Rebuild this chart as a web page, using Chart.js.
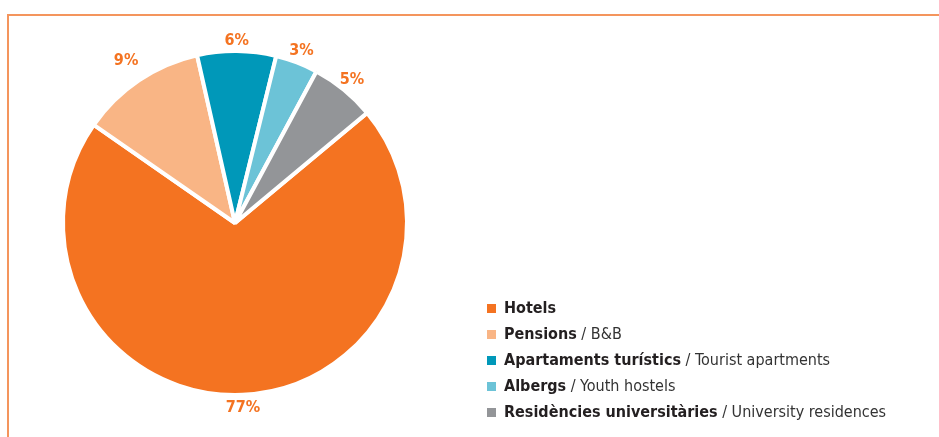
<!DOCTYPE html>
<html>
<head>
<meta charset="utf-8">
<script src="https://cdn.jsdelivr.net/npm/chart.js@4.4.1/dist/chart.umd.min.js"></script>
<style>
	html, body { margin: 0; padding: 0; background: #fff; }
	#wrap { position: relative; width: 939px; height: 437px; overflow: hidden; }
	#frame { position: absolute; left: 7px; top: 14px; right: -10px; bottom: -10px;
		border-top: 2px solid #f4955d; border-left: 2px solid #f4955d; }
	#pie { position: absolute; left: 0; top: 0; }
	#legend { position: absolute; left: 487px; top: 295px; margin: 0; padding: 0; list-style: none;
		font-family: "DejaVu Sans Condensed", "Liberation Sans Narrow", Arial, sans-serif; font-size: 16px; color: #333; }
	#legend li { height: 26px; line-height: 26px; white-space: nowrap; }
	#legend .box { display: inline-block; width: 9px; height: 9px; margin-right: 8px; vertical-align: 0px; }
	#legend b { color: #231f20; }
</style>
</head>
<body>
<div id="wrap">
	<div id="frame"></div>
	<canvas id="pie" width="939" height="437"></canvas>
	<ul id="legend"></ul>
</div>
<script>
// category names (Catalan, bold) and English translations
var categories = ['Hotels', 'Pensions', 'Apartaments turístics', 'Albergs', 'Residències universitàries'];
var translations = ['', 'B&B', 'Tourist apartments', 'Youth hostels', 'University residences'];
// slice sizes as drawn in the picture, and the percentage labels printed beside them
var shares = [70.8, 11.8, 7.4, 4.0, 6.1];
var pctLabels = ['77%', '9%', '6%', '3%', '5%'];
var colors = ['#f47321', '#f9b585', '#0098b9', '#6cc3d7', '#939598'];

var sliceLabels = {
	id: 'sliceLabels',
	afterDatasetsDraw: (chart, args, opts) => {
		var ctx = chart.ctx;
		var meta = chart.getDatasetMeta(0);
		ctx.save();
		ctx.font = 'bold 16px "DejaVu Sans Condensed", Arial, sans-serif';
		ctx.fillStyle = '#f47321';
		ctx.textAlign = 'center';
		ctx.textBaseline = 'middle';
		meta.data.forEach((arc, i) => {
			var p = arc.getProps(['x', 'y', 'startAngle', 'endAngle', 'outerRadius'], true);
			var mid = (p.startAngle + p.endAngle) / 2;
			var r = p.outerRadius + opts.pad + (opts.extra[i] || 0);
			ctx.fillText(pctLabels[i], p.x + Math.cos(mid) * r, p.y + Math.sin(mid) * r);
		});
		ctx.restore();
	}
};

var context = document.getElementById('pie').getContext('2d');
var chart = new Chart(context, {
	type: 'pie',
	data: {
		labels: categories,
		datasets: [{
			data: shares,
			backgroundColor: colors,
			borderColor: '#ffffff',
			borderWidth: 4,
			hoverOffset: 0,
			radius: 172
		}]
	},
	options: {
		responsive: false,
		animation: false,
		rotation: 50.2,
		layout: { padding: { left: 63, top: 51, right: 532, bottom: 42 } },
		plugins: {
			legend: { display: false },
			tooltip: { enabled: false },
			sliceLabels: { pad: 13, extra: [0, 10, -3, 0, 0] }
		}
	},
	plugins: [sliceLabels]
});

// html legend: bold Catalan name, plain English name
var legend = document.getElementById('legend');
categories.forEach((name, i) => {
	var li = document.createElement('li');
	var box = document.createElement('span');
	box.className = 'box';
	box.style.background = chart.data.datasets[0].backgroundColor[i];
	li.appendChild(box);
	var b = document.createElement('b');
	b.textContent = name;
	li.appendChild(b);
	if (translations[i]) {
		li.appendChild(document.createTextNode(' / ' + translations[i]));
	}
	legend.appendChild(li);
});
</script>
</body>
</html>
